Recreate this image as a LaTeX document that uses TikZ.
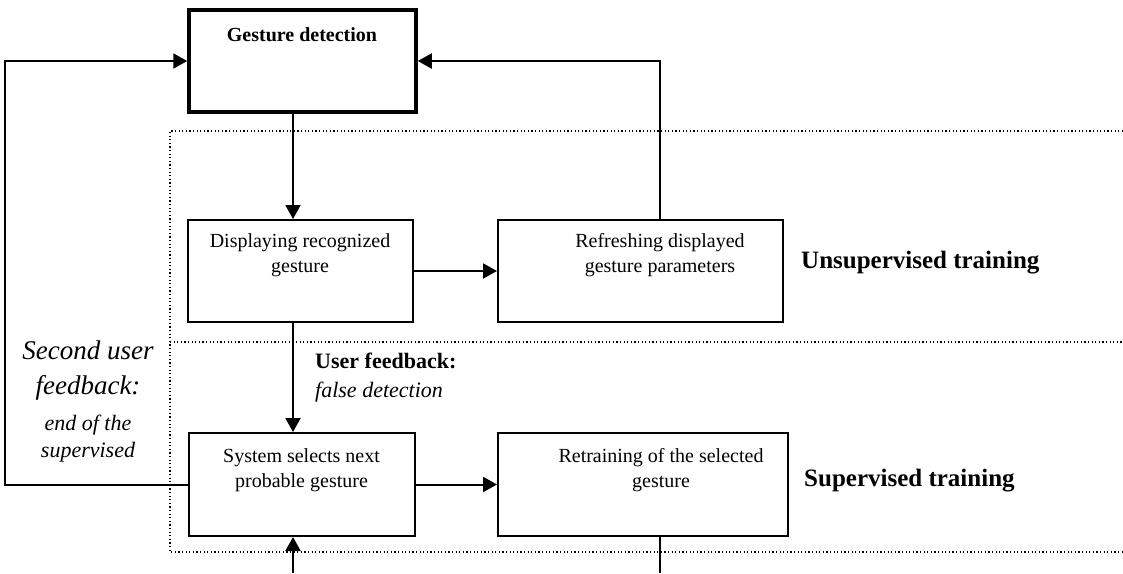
\documentclass[tikz,border=0pt]{standalone}
\usepackage{fontspec}
\setmainfont{Liberation Serif}
\usetikzlibrary{arrows.meta,calc}

\begin{document}
\begin{tikzpicture}[x=1pt, y=-1pt,
		box/.style={draw, line width=2pt, inner sep=0pt},
		boxtext/.style={font=\fontsize{20}{25}\selectfont, align=center, inner sep=0pt},
		section/.style={font=\bfseries\fontsize{25}{30}\selectfont, anchor=west, inner sep=0pt},
		flow/.style={line width=2pt, -{Triangle[length=14pt, width=15pt]}},
		zone/.style={line width=1.2pt, dash pattern=on 1.2pt off 2.4pt}]
		\useasboundingbox (0,0) rectangle (1123,573);
		% columns of the vertical connectors
		\coordinate (mainline) at (293,0);
		\coordinate (backline) at (660,0);
		\coordinate (loopx) at (5,0);
		\coordinate (bottom) at (0,573);
		% dotted frame: unsupervised (top) and supervised (bottom) zones
		\draw[zone] (1123,131) -- (170,131) -- (170,552) -- (1123,552);
		\draw[zone] (170,342) -- (1123,342);
		% boxes
		\node[box, line width=3.5pt, minimum width=227pt, minimum height=102pt]
			(gesture) at (302.5,61) {};
		\node[box, minimum width=225pt, minimum height=102pt] (display) at (300.5,271) {};
		\node[box, minimum width=285pt, minimum height=102pt] (refresh) at (640.5,271) {};
		\node[box, minimum width=226pt, minimum height=103pt] (select) at (302,484.5) {};
		\node[box, minimum width=290pt, minimum height=103pt] (retrain) at (643,484.5) {};
		% box texts (set at the top of each box)
		\node[boxtext, font=\bfseries\fontsize{20}{25}\selectfont] (gesturetext) at (302,35)
			{Gesture detection};
		\node[boxtext] (displaytext) at (300,255.5) {Displaying recognized\\gesture};
		\node[boxtext] (refreshtext) at (660,255.5) {Refreshing displayed\\gesture parameters};
		\node[boxtext] (selecttext) at (301.5,470) {System selects next\\probable gesture};
		\node[boxtext] (retraintext) at (661,470) {Retraining of the selected\\gesture};
		% zone names
		\node[section] (unsup) at (801,263) {Unsupervised training};
		\node[section] (sup) at (804,481) {Supervised training};
		% feedback labels
		\node[anchor=west, align=left, inner sep=0pt, font=\fontsize{22}{29}\selectfont]
			(feedback) at (315,377.5) {\textbf{User feedback:}\\\textit{false detection}};
		\node[align=center, inner sep=0pt, font=\itshape\fontsize{27}{35}\selectfont]
			(second) at (88,370.5) {Second user\\feedback:};
		\node[align=center, inner sep=0pt, font=\itshape\fontsize{22}{27}\selectfont]
			(endsup) at (88,438.5) {end of the\\supervised};
		% connectors
		\draw[flow] (mainline |- gesture.south) -- (mainline |- display.north);
		\draw[flow] (display.east) -- (refresh.west);
		\draw[flow] (backline |- refresh.north) -- (backline |- gesture.east) -- (gesture.east);
		\draw[flow] (mainline |- display.south) -- (mainline |- select.north);
		\draw[flow] (select.east) -- (retrain.west);
		\draw[flow] (select.west) -- (loopx |- select.west) -- (loopx |- gesture.west)
			-- (gesture.west);
		\draw[flow] (mainline |- bottom) -- (mainline |- select.south);
		\draw[line width=2pt] (backline |- retrain.south) -- (backline |- bottom);
	\end{tikzpicture}
\end{document}
